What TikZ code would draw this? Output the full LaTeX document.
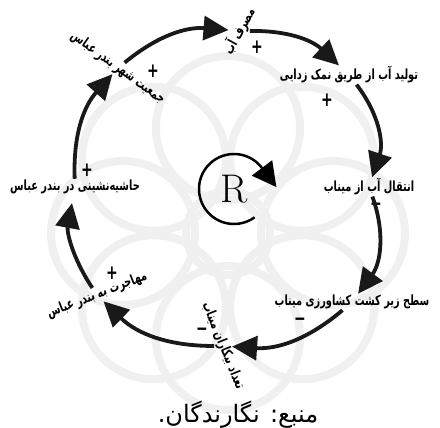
\documentclass[tikz,border=0pt]{standalone}
\usepackage{fontspec}
\usetikzlibrary{arrows.meta}
\newfontfamily\fa[Script=Arabic]{DejaVu Sans}
\newfontfamily\fab[Script=Arabic, FakeStretch=0.7]{DejaVu Sans Bold}
\TeXXeTstate=1

\begin{document}
\begin{tikzpicture}[x=1pt, y=1pt,
  every node/.style={inner sep=1pt},
  lbl/.style={font=\fab\fontsize{14}{16}\selectfont},
  sgn/.style={font=\fab\fontsize{20}{20}\selectfont},
  flow/.style={line width=3.8pt, draw=black!90,
               -{Triangle[length=25pt, width=24pt]}},
  loopar/.style={line width=2.5pt, -{Triangle[length=24pt, width=25pt]}},
  wmark/.style={draw=black!6, line width=8pt}]

\useasboundingbox (-228,-240) rectangle (212,188);

% faint rosette in the back
\foreach \a in {0,45,...,315}
  \draw[wmark] (\a:105) ++(0,-45) circle[radius=72];
\draw[wmark] (0,-45) circle[radius=42];

% variables round the loop
\node[lbl, rotate=61]  (use)      at (11,157)    {\beginR مصرف آب\endR};
\node[lbl]             (desal)    at (121,113)   {\beginR تولید آب از طریق نمک زدایی\endR};
\node[lbl]             (transfer) at (141,1)     {\beginR انتقال آب از میناب\endR};
\node[lbl]             (area)     at (124,-114)  {\beginR سطح زیر کشت کشاورزی میناب\endR};
\node[lbl, rotate=-68] (jobless)  at (-5,-158)   {\beginR تعداد بیکاران میناب\endR};
\node[lbl, rotate=21]  (migr)     at (-131,-107) {\beginR مهاجرت به بندر عباس\endR};
\node[lbl]             (slum)     at (-153,1)    {\beginR حاشیه‌نشینی در بندر عباس\endR};
\node[lbl, rotate=-36] (pop)      at (-110,120)  {\beginR جمعیت شهر بندر عباس\endR};

% polarities
\node[sgn] (s1) at (29,141)    {+};
\node[sgn] (s2) at (99,88)     {+};
\node[sgn] (s3) at (148,-19)   {−};
\node[sgn] (s4) at (72,-134)   {−};
\node[sgn] (s5) at (-26,-144)  {−};
\node[sgn] (s6) at (-116,-85)  {+};
\node[sgn] (s7) at (-141,18)   {+};
\node[sgn] (s8) at (-75,117)   {+};

% causal links
\draw[flow] (pop) to[bend left=22] (use);
\draw[flow] (use) to[bend left=22] (desal);
\draw[flow] (desal) to[bend left=28] (transfer);
\draw[flow] (transfer) to[bend left=28] (area);
\draw[flow] (area) to[bend left=22] (jobless);
\draw[flow] (jobless) to[bend left=22] (migr);
\draw[flow, shorten >=8pt] (migr) to[bend left=22] (slum);
\draw[flow] (slum) to[bend left=22] (pop);

% loop marker
\node[font=\fontsize{40}{40}\selectfont] (loop) at (6,-1) {R};
\draw[loopar] ([shift={(-54:35)}]loop.center)
  arc[start angle=-54, end angle=-323, radius=35] -- ++(-53:24);

% source
\node[font=\fa\fontsize{24}{26}\selectfont] (src) at (10,-227)
  {\beginR منبع: نگارندگان.\endR};
\end{tikzpicture}
\end{document}
